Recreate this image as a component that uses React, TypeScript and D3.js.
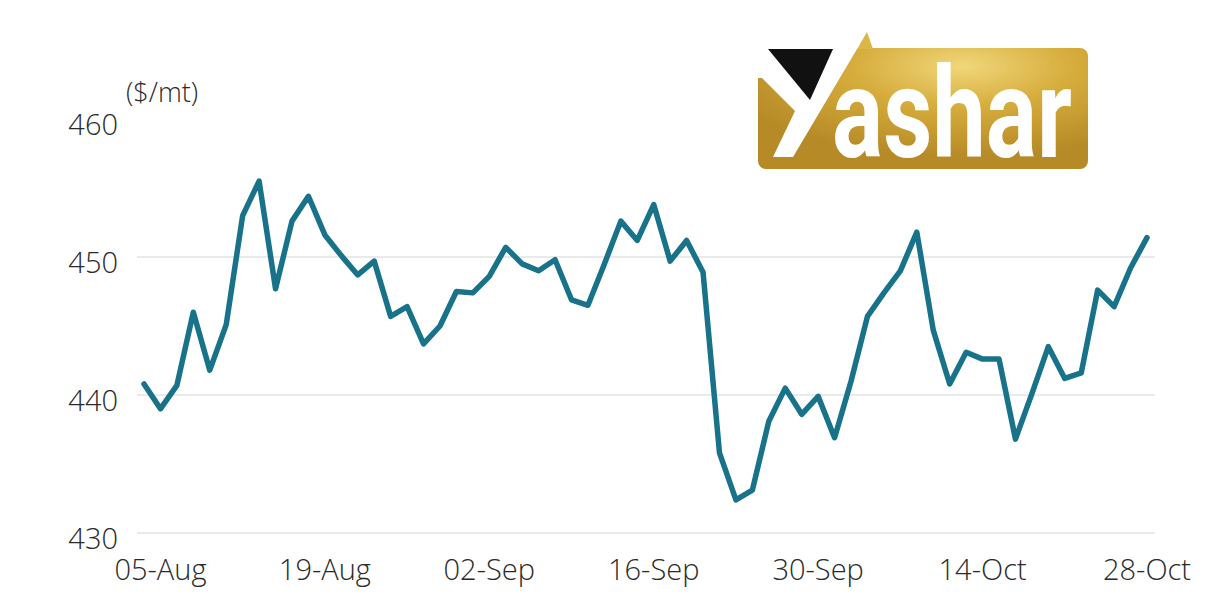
import { useEffect, useRef } from 'react';
import * as d3 from 'd3';

// business days shown on the chart
const DATES = [
  '02-Aug',
  '05-Aug', '06-Aug', '07-Aug', '08-Aug', '09-Aug',
  '12-Aug', '13-Aug', '14-Aug', '15-Aug', '16-Aug',
  '19-Aug', '20-Aug', '21-Aug', '22-Aug', '23-Aug',
  '26-Aug', '27-Aug', '28-Aug', '29-Aug', '30-Aug',
  '02-Sep', '03-Sep', '04-Sep', '05-Sep', '06-Sep',
  '09-Sep', '10-Sep', '11-Sep', '12-Sep', '13-Sep',
  '16-Sep', '17-Sep', '18-Sep', '19-Sep', '20-Sep',
  '23-Sep', '24-Sep', '25-Sep', '26-Sep', '27-Sep',
  '30-Sep', '01-Oct', '02-Oct', '03-Oct', '04-Oct',
  '07-Oct', '08-Oct', '09-Oct', '10-Oct', '11-Oct',
  '14-Oct', '15-Oct', '16-Oct', '17-Oct', '18-Oct',
  '21-Oct', '22-Oct', '23-Oct', '24-Oct', '25-Oct',
  '28-Oct',
];

const PRICES = [
  440.8,
  439.0, 440.7, 446.0, 441.8, 445.1,
  453.0, 455.5, 447.7, 452.6, 454.4,
  451.6, 450.1, 448.7, 449.7, 445.7,
  446.4, 443.7, 445.0, 447.5, 447.4,
  448.6, 450.7, 449.5, 449.0, 449.8,
  446.9, 446.5, 449.5, 452.6, 451.2,
  453.8, 449.7, 451.2, 448.9, 435.8,
  432.4, 433.1, 438.1, 440.5, 438.6,
  439.9, 436.9, 441.0, 445.7, 447.4,
  449.0, 451.8, 444.7, 440.8, 443.1,
  442.6, 442.6, 436.8, 440.1, 443.5,
  441.2, 441.6, 447.6, 446.4, 449.2,
  451.4,
];

const X_TICKS = ['05-Aug', '19-Aug', '02-Sep', '16-Sep', '30-Sep', '14-Oct', '28-Oct'];
const Y_TICKS = [430, 440, 450, 460];
const GRID_VALUES = [430, 440, 450];

const WIDTH = 1206;
const HEIGHT = 603;
const LINE_COLOR = '#17728a';
const TEXT_COLOR = '#2a2a2a';
const FONT = '"Open Sans", "Noto Sans", sans-serif';

export default function App() {
  const svgRef = useRef<SVGSVGElement>(null);

  useEffect(() => {
    if (!svgRef.current) return;
    const svg = d3.select(svgRef.current);
    svg.selectAll('*').remove();

    const x = d3.scalePoint<string>().domain(DATES).range([144, 1147]);
    const y = d3.scaleLinear().domain([430, 460]).range([533, 119]);

    // grid
    svg
      .append('g')
      .selectAll('line')
      .data(GRID_VALUES)
      .join('line')
      .attr('x1', 137)
      .attr('x2', 1155)
      .attr('y1', (d) => y(d))
      .attr('y2', (d) => y(d))
      .attr('stroke', '#e3e3e3')
      .attr('stroke-width', 1.5);

    // y labels
    svg
      .append('g')
      .selectAll('text')
      .data(Y_TICKS)
      .join('text')
      .attr('x', 118)
      .attr('y', (d) => y(d) + 16)
      .attr('text-anchor', 'end')
      .attr('font-family', FONT)
      .attr('font-weight', 300)
      .attr('font-size', 29)
      .attr('fill', TEXT_COLOR)
      .text((d) => d);

    svg
      .append('text')
      .attr('x', 126)
      .attr('y', 102)
      .attr('font-family', FONT)
      .attr('font-weight', 300)
      .attr('font-size', 27)
      .attr('fill', TEXT_COLOR)
      .text('($/mt)');

    // x labels
    svg
      .append('g')
      .selectAll('text')
      .data(X_TICKS)
      .join('text')
      .attr('x', (d) => x(d) as number)
      .attr('y', 580)
      .attr('text-anchor', 'middle')
      .attr('font-family', FONT)
      .attr('font-weight', 300)
      .attr('font-size', 29)
      .attr('fill', TEXT_COLOR)
      .text((d) => d);

    // price line
    const line = d3
      .line<number>()
      .x((_, i) => x(DATES[i]) as number)
      .y((d) => y(d));

    svg
      .append('path')
      .datum(PRICES)
      .attr('d', line)
      .attr('fill', 'none')
      .attr('stroke', LINE_COLOR)
      .attr('stroke-width', 5.5)
      .attr('stroke-linejoin', 'round')
      .attr('stroke-linecap', 'round');

    // logo
    const defs = svg.append('defs');
    const grad = defs
      .append('radialGradient')
      .attr('id', 'gold')
      .attr('cx', '62%')
      .attr('cy', '15%')
      .attr('r', '75%');
    grad.append('stop').attr('offset', '0%').attr('stop-color', '#f0d77a');
    grad.append('stop').attr('offset', '45%').attr('stop-color', '#d6ac3c');
    grad.append('stop').attr('offset', '100%').attr('stop-color', '#b68a26');

    const logo = svg.append('g');
    logo
      .append('rect')
      .attr('x', 758)
      .attr('y', 48)
      .attr('width', 330)
      .attr('height', 121)
      .attr('rx', 8)
      .attr('fill', 'url(#gold)');
    // gold tip above the box
    logo
      .append('polygon')
      .attr('points', '867,32 873,49 857,49')
      .attr('fill', '#dcb646');
    // white cut-out forming the Y
    logo
      .append('polygon')
      .attr('points', '752,44 860,44 793,157 773,157 795,111 762,78 752,78')
      .attr('fill', '#fff');
    logo
      .append('polygon')
      .attr('points', '768,49 833,49 810,100')
      .attr('fill', '#111');
    logo
      .append('text')
      .attr('x', 832)
      .attr('y', 157)
      .attr('font-family', '"Liberation Sans Narrow", "Roboto", sans-serif')
      .attr('font-weight', 700)
      .attr('font-size', 126)
      .attr('textLength', 240)
      .attr('lengthAdjust', 'spacingAndGlyphs')
      .attr('fill', '#fff')
      .text('ashar');
  }, []);

  return (
    <svg
      ref={svgRef}
      width={WIDTH}
      height={HEIGHT}
      style={{ position: 'fixed', left: 0, top: 0, background: '#fff' }}
    />
  );
}
